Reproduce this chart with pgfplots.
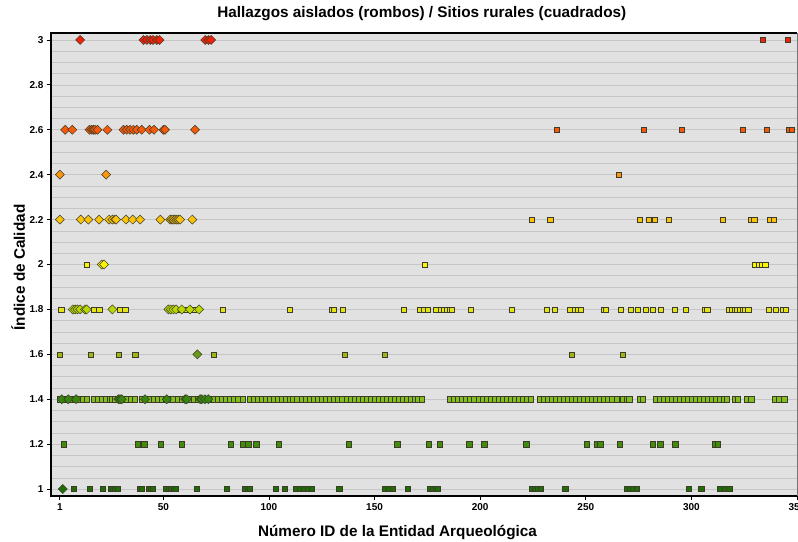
\documentclass[border=0pt]{standalone}
\usepackage{fontspec}
\setmainfont{Liberation Sans}
\usepackage{pgfplots}
\pgfplotsset{compat=1.18}
\definecolor{bg}{RGB}{225,225,225}
\definecolor{gridc}{RGB}{198,198,198}
\definecolor{cA}{RGB}{240,35,10}
\definecolor{cB}{RGB}{245,90,10}
\definecolor{cC}{RGB}{250,150,15}
\definecolor{cD}{RGB}{250,195,10}
\definecolor{cE}{RGB}{250,245,0}
\definecolor{cFd}{RGB}{185,215,0}
\definecolor{cFs}{RGB}{228,228,20}
\definecolor{cGd}{RGB}{105,155,20}
\definecolor{cGs}{RGB}{160,180,20}
\definecolor{cHd}{RGB}{55,135,15}
\definecolor{cHs}{RGB}{130,190,30}
\definecolor{cI}{RGB}{65,140,10}
\definecolor{cJ}{RGB}{30,110,5}
\definecolor{edge}{RGB}{60,60,40}
\pgfplotsset{
 sq/.style={only marks, mark=square*, mark size=2.6pt, mark options={draw=edge, fill=#1, line width=0.35pt}},
 dm/.style={only marks, mark=square*, mark size=3.2pt, mark options={rotate=45, draw=edge, fill=#1, line width=0.5pt}},
}
\begin{document}
\begin{tikzpicture}
\begin{axis}[
 scale only axis, width=746pt, height=463pt,
 at={(0,0)}, anchor=south west,
 xmin=-3.2, xmax=350, ymin=0.969, ymax=3.031,
 clip=false,
 axis background/.style={fill=bg},
 axis line style={draw=none},
 xtick={1,50,100,150,200,250,300,350},
 xticklabels={1,50,100,150,200,250,300,350},
 ytick={1,1.2,1.4,1.6,1.8,2,2.2,2.4,2.6,2.8,3},
 yticklabels={1,1.2,1.4,1.6,1.8,2,2.2,2.4,2.6,2.8,3},
 minor y tick num=3,
 xtick pos=bottom, ytick pos=left,
 tick align=outside, major tick length=4pt, minor tick length=0pt,
 tick style={black, line width=0.8pt},
 ymajorgrids, yminorgrids,
 major grid style={gridc, line width=0.6pt},
 minor grid style={gridc, line width=0.6pt},
 ticklabel style={font=\fontsize{10}{12}\selectfont\bfseries},
 title={Hallazgos aislados (rombos) / Sitios rurales (cuadrados)},
 title style={font=\fontsize{15.3}{18}\selectfont\bfseries, at={(axis description cs:0.497,1)}, anchor=base, yshift=9.7pt},
 xlabel={Número ID de la Entidad Arqueológica},
 xlabel style={font=\fontsize{15.3}{18}\selectfont\bfseries, at={(axis description cs:0.4645,0)}, anchor=base, yshift=-40.7pt},
 ylabel={Índice de Calidad},
 ylabel style={font=\fontsize{15.3}{18}\selectfont\bfseries, at={(axis description cs:-0.03485,0.4935)}, anchor=base, rotate=0},
]
% ---- squares (sitios rurales)
\addplot[sq=cA] coordinates {(333.6,3) (345.5,3)};
\addplot[sq=cB] coordinates {(236.3,2.6) (277.3,2.6) (295.5,2.6) (324.1,2.6) (335.7,2.6) (345.9,2.6) (347.5,2.6)};
\addplot[sq=cC] coordinates {(265.4,2.4)};
\addplot[sq=cD] coordinates {(224.4,2.2) (233.1,2.2) (275.4,2.2) (279.6,2.2) (282.5,2.2) (289.4,2.2) (314.7,2.2) (328.1,2.2) (329.7,2.2) (337.3,2.2) (338.8,2.2)};
\addplot[sq=cE] coordinates {(13.7,2) (173.7,2) (330.2,2) (331.7,2) (333.3,2) (334.9,2)};
\addplot[sq=cFs] coordinates {(1.6,1.8) (16.9,1.8) (19.6,1.8) (29.5,1.8) (31.9,1.8) (56.8,1.8) (60.3,1.8) (64.2,1.8) (77.9,1.8) (109.9,1.8) (129.6,1.8) (130.8,1.8) (134.9,1.8) (163.8,1.8) (171.2,1.8) (173.2,1.8) (175.1,1.8) (178.8,1.8) (181.5,1.8) (182.7,1.8) (184,1.8) (185.4,1.8) (186.5,1.8) (195.6,1.8) (214.8,1.8) (231.5,1.8) (235.4,1.8) (242.2,1.8) (244.9,1.8) (246.2,1.8) (247.6,1.8) (258.6,1.8) (259.6,1.8) (266.5,1.8) (271.4,1.8) (274.4,1.8) (278.4,1.8) (281.7,1.8) (285.6,1.8) (292.2,1.8) (297.4,1.8) (306.4,1.8) (307.5,1.8) (317.9,1.8) (319.1,1.8) (320.3,1.8) (321.4,1.8) (322.7,1.8) (324.1,1.8) (325.4,1.8) (326.9,1.8) (336.4,1.8) (339.9,1.8) (343.2,1.8) (344.7,1.8)};
\addplot[sq=cGs] coordinates {(1,1.6) (15.6,1.6) (28.7,1.6) (36.7,1.6) (74,1.6) (135.8,1.6) (154.9,1.6) (243.4,1.6) (267.5,1.6)};
\addplot[sq=cHs] coordinates {
(1,1.4) (2.8,1.4) (4.6,1.4) (6.4,1.4) (8.2,1.4) (10,1.4) (11.9,1.4) (13.7,1.4)
(16.9,1.4) (18.8,1.4) (20.7,1.4) (22.6,1.4) (24.4,1.4) (25.6,1.4)
(27.1,1.4) (29,1.4) (30.9,1.4) (32.8,1.4) (34.7,1.4) (36.6,1.4)
(39.8,1.4) (41.7,1.4) (43.6,1.4) (45.5,1.4) (47.4,1.4) (49.3,1.4) (51.2,1.4) (53.1,1.4) (54.4,1.4)
(56.8,1.4) (58.6,1.4) (60.5,1.4) (62.4,1.4) (64.3,1.4) (66.2,1.4) (68.1,1.4) (70,1.4) (71.9,1.4) (73.8,1.4) (75.7,1.4) (77.6,1.4) (79.5,1.4) (81.4,1.4) (83.3,1.4) (85.2,1.4) (87.5,1.4)
(90.7,1.4) (92.6,1.4) (94.5,1.4) (96.4,1.4) (98.3,1.4) (100.2,1.4) (102.1,1.4) (104,1.4) (105.9,1.4) (107.8,1.4) (109.7,1.4) (111.5,1.4) (113.2,1.4)
(115.7,1.4) (117.6,1.4) (119.5,1.4) (121.4,1.4) (123.3,1.4) (125.2,1.4) (127.1,1.4) (129,1.4) (130.9,1.4) (132.8,1.4) (134.7,1.4) (136.6,1.4) (138.5,1.4) (140.4,1.4) (142.3,1.4) (144.2,1.4) (146.1,1.4) (148,1.4) (149.9,1.4) (151.8,1.4) (153.7,1.4) (155.6,1.4) (157.5,1.4) (159.4,1.4) (161.3,1.4) (163.2,1.4) (165.1,1.4) (167,1.4) (168.9,1.4) (170.6,1.4) (172.3,1.4)
(185.8,1.4) (187.7,1.4) (189.6,1.4) (191.5,1.4) (193.4,1.4) (195.3,1.4) (197.2,1.4) (199.1,1.4) (201,1.4) (202.9,1.4) (204.8,1.4) (206.7,1.4) (208.6,1.4) (210.5,1.4) (212.4,1.4) (214.3,1.4) (216.2,1.4) (218.1,1.4) (220,1.4) (221.9,1.4) (223.8,1.4)
(228.2,1.4) (230.1,1.4) (232,1.4) (233.9,1.4) (235.8,1.4) (237.7,1.4) (239.6,1.4) (241.5,1.4) (243.4,1.4) (245.3,1.4) (247.2,1.4) (249.1,1.4) (251,1.4) (252.9,1.4) (254.8,1.4) (256.7,1.4) (258.6,1.4) (260.5,1.4) (262.4,1.4) (264.8,1.4)
(267.6,1.4) (269.2,1.4) (270.5,1.4) (275.6,1.4) (277,1.4)
(283.2,1.4) (285.1,1.4) (287,1.4) (288.9,1.4) (290.8,1.4) (292.7,1.4) (294.6,1.4) (296.5,1.4) (298.4,1.4) (300.3,1.4) (302.2,1.4) (304.1,1.4) (306,1.4) (307.9,1.4) (309.8,1.4) (311.7,1.4) (313.6,1.4) (315.5,1.4) (316.8,1.4)
(320.6,1.4) (322,1.4) (326,1.4) (328.3,1.4) (339.6,1.4) (341.5,1.4) (343.9,1.4)};
\addplot[sq=cI] coordinates {(2.7,1.2) (37.7,1.2) (40.9,1.2) (48.8,1.2) (58.7,1.2) (81.9,1.2) (87.6,1.2) (90.2,1.2) (93.9,1.2) (104.7,1.2) (137.9,1.2) (160.7,1.2) (175.8,1.2) (180.8,1.2) (194.8,1.2) (201.9,1.2) (221.8,1.2) (250.5,1.2) (255.2,1.2) (256.8,1.2) (265.9,1.2) (281.7,1.2) (285.2,1.2) (292.3,1.2) (310.9,1.2) (312.3,1.2)};
\addplot[sq=cJ] coordinates {(7.7,1) (15,1) (21.3,1) (25.1,1) (26,1) (27.1,1) (28.2,1) (38.6,1) (39.8,1) (42.9,1) (44,1) (45,1) (51.3,1) (52.4,1) (53.5,1) (54.7,1) (56,1) (65.8,1) (80,1) (88.7,1) (89.8,1) (91,1) (103,1) (107.5,1) (112.6,1) (114.5,1) (116.4,1) (118.3,1) (120.2,1) (133.2,1) (155,1) (156.5,1) (158.6,1) (165.8,1) (176.3,1) (177.6,1) (178.8,1) (180,1) (224.4,1) (225.8,1) (227.2,1) (228.6,1) (240.2,1) (269.3,1) (270.8,1) (272.3,1) (274,1) (298.6,1) (304.6,1) (313.3,1) (316,1) (317.9,1)};
% ---- diamonds (hallazgos aislados)
\addplot[dm=cA] coordinates {(10.6,3) (40.6,3) (42.2,3) (43.8,3) (45.1,3) (46.9,3) (48.2,3) (69.8,3) (71.4,3) (72.6,3)};
\addplot[dm=cB] coordinates {(3.5,2.6) (6.9,2.6) (15,2.6) (16.1,2.6) (16.9,2.6) (17.7,2.6) (18.8,2.6) (23.5,2.6) (31.1,2.6) (32.7,2.6) (34.2,2.6) (35.8,2.6) (37.4,2.6) (39.8,2.6) (43.4,2.6) (45.6,2.6) (50,2.6) (50.8,2.6) (65,2.6)};
\addplot[dm=cC] coordinates {(1,2.4) (22.9,2.4)};
\addplot[dm=cD] coordinates {(1,2.2) (10.9,2.2) (14.5,2.2) (19.6,2.2) (24.3,2.2) (25.9,2.2) (27.1,2.2) (27.6,2.2) (32.3,2.2) (35.5,2.2) (39,2.2) (48.6,2.2) (53.2,2.2) (54,2.2) (54.7,2.2) (55.5,2.2) (56.3,2.2) (57.1,2.2) (57.9,2.2) (63.7,2.2)};
\addplot[dm=cE] coordinates {(20.8,2) (21.9,2)};
\addplot[dm=cFd] coordinates {(7.1,1.8) (8.2,1.8) (9.3,1.8) (10.6,1.8) (12.9,1.8) (13.7,1.8) (25.9,1.8) (52.4,1.8) (53.5,1.8) (54.7,1.8) (56,1.8) (58.7,1.8) (62.6,1.8) (66.9,1.8)};
\addplot[dm=cGd] coordinates {(66.1,1.6)};
\addplot[dm=cHd] coordinates {(1.9,1.4) (5,1.4) (8.7,1.4) (28.7,1.4) (29.5,1.4) (30.3,1.4) (41.3,1.4) (51.6,1.4) (60.3,1.4) (61.1,1.4) (67.4,1.4) (68.2,1.4) (69.7,1.4) (71.3,1.4)};
\addplot[dm=cJ] coordinates {(2.4,1)};
% ---- frame
\draw[black!55, line width=0.8pt] (rel axis cs:1,0) -- (rel axis cs:1,1);
\draw[black, line width=2pt] (rel axis cs:1,1) -- (rel axis cs:0,1) -- (rel axis cs:0,0) -- (rel axis cs:1,0);
\end{axis}
\pgfresetboundingbox
\path[use as bounding box] (-51pt,-45pt) rectangle (747pt,496pt);
\end{tikzpicture}
\end{document}
